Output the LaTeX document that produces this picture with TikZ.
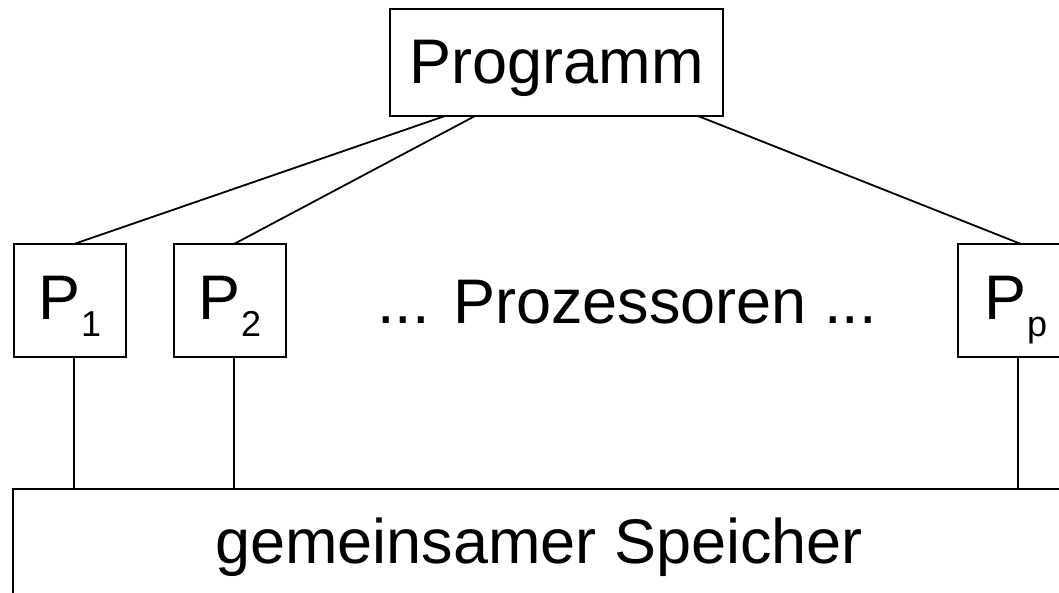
\documentclass[tikz,border=0pt]{standalone}
\usepackage{fontspec}
\setmainfont{Liberation Sans}
\usetikzlibrary{calc}
\newcommand{\sub}[1]{\raisebox{-17pt}[0pt][0pt]{\fontsize{36}{36}\selectfont #1}}
\tikzset{
  box/.style={draw, line width=1.8pt, rectangle, inner sep=0pt, outer sep=0pt},
  big/.style={font=\fontsize{63}{70}\selectfont},
  conn/.style={line width=1.8pt},
}
\begin{document}
\begin{tikzpicture}[x=1pt,y=-1pt]
\useasboundingbox (0,0) rectangle (1059,592);
\clip (0,0) rectangle (1059,592);
\node[box, big, minimum width=333pt, minimum height=107pt, text height=45pt, text depth=4pt] (prog) at (556.5,62.5) {Programm};
\node[box, big, minimum width=112pt, minimum height=113pt, text height=41pt, text depth=4pt] (p1) at (70,300.5) {P\sub{1}};
\node[box, big, minimum width=112pt, minimum height=113pt, text height=41pt, text depth=4pt] (p2) at (230,300.5) {P\sub{2}};
\node[box, big, minimum width=116pt, minimum height=113pt, text height=41pt, text depth=4pt] (pp) at (1016,300.5) {P\sub{p}};
\node[big, anchor=base, inner sep=0pt] (proz) at (627,323) {... Prozessoren ...};
\node[box, big, minimum width=1052pt, minimum height=116pt, text height=45pt, text depth=13pt] (mem) at (539,547) {gemeinsamer Speicher};
\draw[conn] ([xshift=-111.5pt]prog.south) -- ([xshift=4pt]p1.north);
\draw[conn] ([xshift=-81.5pt]prog.south) -- ([xshift=4pt]p2.north);
\draw[conn] ([xshift=141.5pt]prog.south) -- ([xshift=5pt]pp.north);
\coordinate (b1) at ([xshift=4pt]p1.south);
\coordinate (b2) at ([xshift=4pt]p2.south);
\coordinate (bp) at ([xshift=2pt]pp.south);
\draw[conn] (b1) -- (b1 |- mem.north);
\draw[conn] (b2) -- (b2 |- mem.north);
\draw[conn] (bp) -- (bp |- mem.north);
\end{tikzpicture}
\end{document}
